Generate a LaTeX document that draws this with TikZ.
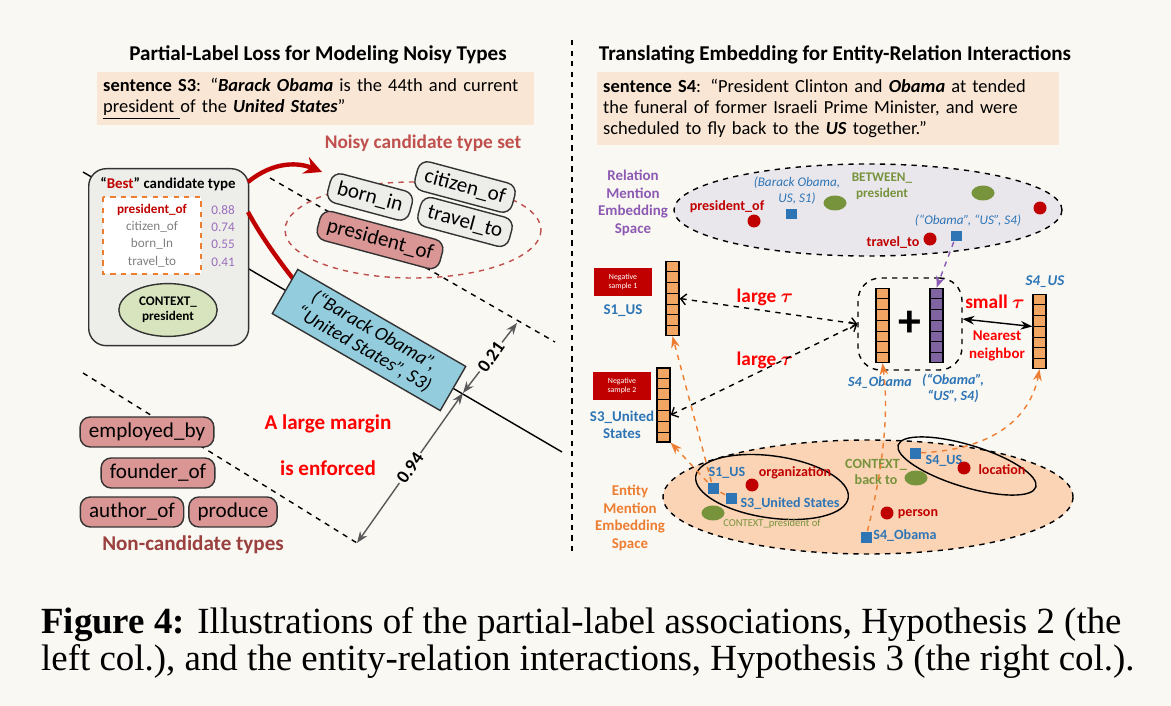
\documentclass[tikz,border=0pt]{standalone}
\usepackage{amsmath}
\usepackage{amssymb}
\usepackage{xcolor}
\usepackage{fontspec}
\setmainfont{Carlito}
\newfontfamily\capfont{Liberation Serif}
\usepackage{tikz}
\usetikzlibrary{
    arrows.meta,
    calc,
    shapes.geometric
}
\definecolor{bgc}{HTML}{FAF8F3}
\definecolor{peach}{HTML}{FAE6D4}
\definecolor{darkred}{HTML}{C00000}
\definecolor{noisy}{HTML}{C0504D}
\definecolor{pink}{HTML}{DA9694}
\definecolor{pillgray}{HTML}{EDEDEA}
\definecolor{skyb}{HTML}{93CDDD}
\definecolor{olivel}{HTML}{D7E4BD}
\definecolor{oliv}{HTML}{77933C}
\definecolor{orng}{HTML}{ED7D31}
\definecolor{orvec}{HTML}{F2A663}
\definecolor{purp}{HTML}{7030A0}
\definecolor{purvec}{HTML}{8064A2}
\definecolor{blu}{HTML}{2E75B6}
\definecolor{lav}{HTML}{E9E6EC}
\definecolor{salm}{HTML}{FAD4B4}
\newcommand{\cells}[1]{\foreach \k in {1,...,6}
  \draw ($(#1.north west)!\k/7!(#1.south west)$) -- ($(#1.north east)!\k/7!(#1.south east)$);}

\begin{document}
\begin{tikzpicture}[x=0.02cm,y=-0.02cm,>=Stealth]
    \tikzset{
      pill/.style={draw=black!80, thick, rounded corners=0.2cm, minimum height=0.6cm, font=\fontsize{12}{13}\selectfont, inner xsep=5pt},
      vec/.style={draw, thick, minimum width=0.26cm, minimum height=1.48cm, inner sep=0pt},
      dot/.style={circle, fill=darkred, inner sep=0pt, minimum size=0.26cm},
      sq/.style={fill=blu, inner sep=0pt, minimum size=0.22cm},
      gel/.style={ellipse, fill=oliv, inner sep=0pt, minimum width=0.46cm, minimum height=0.3cm},
      lbl/.style={font=\fontsize{8}{9}\selectfont\bfseries},
      neg/.style={fill=darkred, text=white, align=center, font=\fontsize{4.5}{5}\selectfont, minimum width=1.18cm, minimum height=0.55cm},
      orarr/.style={->, orng, thick, dashed}
    }
    \fill[bgc] (0,0) rectangle (1171,706);
    \useasboundingbox (0,0) rectangle (1171,706);

    % titles
    \node[font=\fontsize{12}{14}\selectfont\bfseries] (t1) at (318,55) {Partial-Label Loss for Modeling Noisy Types};
    \node[font=\fontsize{12}{14}\selectfont\bfseries] (t2) at (835,55) {Translating Embedding for Entity-Relation Interactions};
    \draw[dashed, thick] (572,40) -- (572,555);

    \node[fill=peach, anchor=north west, minimum width=8.66cm, minimum height=1cm, align=left, text width=8.5cm, font=\fontsize{10.5}{12}\selectfont] (s3) at (97,72)
      {\textbf{sentence S3}: “\textbf{\textit{Barack Obama}} is the 44th and current\\ \underline{president }of the \textbf{\textit{United States}}”};
    \node[fill=peach, anchor=north west, minimum width=9.16cm, minimum height=1.46cm, align=left, text width=9cm, font=\fontsize{10.5}{12}\selectfont] (s4) at (597,72)
      {\textbf{sentence S4}: “President Clinton and \textbf{\textit{Obama}} at tended\\ the funeral of former Israeli Prime Minister, and were\\ scheduled to fly back to the \textbf{\textit{US}} together.”};

    % left: margins
    \draw[thick] (83,172) -- (562,452);
    \draw[dashed, thick] (270,178) -- (555,342);
    \draw[dashed, thick] (83,373) -- (357,543);

    \node[text=noisy, font=\fontsize{11}{12}\selectfont\bfseries] (nt) at (423,143) {Noisy candidate type set};
    \draw[noisy, dashed, thick] (413,230) ellipse [x radius=128, y radius=48];
    \node[pill, fill=pillgray, rotate=-15] (c1) at (465,187) {citizen\_of};
    \node[pill, fill=pillgray, rotate=-15] (c2) at (370,197) {born\_in};
    \node[pill, fill=pillgray, rotate=-15] (c3) at (465,222) {travel\_to};
    \node[pill, fill=pink, rotate=-15] (c4) at (380,240) {president\_of};

    \node[draw=black!80, thick, fill=pillgray, rounded corners=0.35cm, minimum width=3.2cm, minimum height=3.54cm, anchor=north west] (bst) at (88,168) {};
    \node[font=\fontsize{8.5}{10}\selectfont\bfseries] (bt) at (168,184) {“\textcolor{darkred}{Best}” candidate type};
    \draw[orng, dashed, thick, fill=white] (103,197) rectangle (201,274);
    \node[text=darkred, font=\fontsize{7.5}{9}\selectfont\bfseries] (b1) at (152,210) {president\_of};
    \node[text=gray, font=\fontsize{7.5}{9}\selectfont] (b2) at (152,227) {citizen\_of};
    \node[text=gray, font=\fontsize{7.5}{9}\selectfont] (b3) at (152,244) {born\_In};
    \node[text=gray, font=\fontsize{7.5}{9}\selectfont] (b4) at (152,262) {travel\_to};
    \foreach \v/\y in {0.88/210, 0.74/227, 0.55/244, 0.41/262}
      \node[text=purp!70, font=\fontsize{7.5}{9}\selectfont] at (223,\y) {\v};
    \node[ellipse, draw=black!80, thick, fill=olivel, minimum width=1.9cm, minimum height=1cm, align=center, font=\fontsize{7.5}{8.5}\selectfont\bfseries] (ctx) at (168,310) {CONTEXT\_\\president};

    \draw[darkred, line width=2.5pt, -{Stealth[length=10pt,width=10pt]}] (248,182) .. controls (275,160) and (300,163) .. (322,172);
    \draw[darkred, line width=2.5pt] (248,212) .. controls (262,238) and (280,262) .. (294,280);

    \node[draw=black!80, thick, fill=skyb, rotate=-30, minimum width=3.88cm, minimum height=1.02cm, align=center, font=\fontsize{11}{12}\selectfont\itshape] (bo) at (369,340) {(“Barack Obama”,\\“United States”, S3)};

    \coordinate (d0) at (357,543);
    \coordinate (d1) at (463,393);
    \coordinate (d2) at (517,323);
    \draw[gray!70!black, thick, <->] (d0) -- (d1);
    \draw[gray!70!black, thick, <->] (d1) -- (d2);
    \node[rotate=55, fill=bgc, inner sep=1pt, font=\fontsize{10.5}{12}\selectfont\bfseries] at (410,468) {0.94};
    \node[rotate=55, fill=bgc, inner sep=1pt, font=\fontsize{10.5}{12}\selectfont\bfseries] at (491,357) {0.21};

    \node[text=red, font=\fontsize{12}{14}\selectfont\bfseries] (m1) at (328,424) {A large margin};
    \node[text=red, font=\fontsize{12}{14}\selectfont\bfseries] (m2) at (328,468) {is enforced};

    \node[pill, fill=pink] (n1) at (147,432) {employed\_by};
    \node[pill, fill=pink] (n2) at (158,473) {founder\_of};
    \node[pill, fill=pink] (n3) at (132,512) {author\_of};
    \node[pill, fill=pink] (n4) at (233,512) {produce};
    \node[text=noisy!80!black, font=\fontsize{12}{14}\selectfont\bfseries] (nc) at (193,545) {Non-candidate types};

    % right: relation space
    \draw[dashed, thick, fill=lav] (868,210) ellipse [x radius=194, y radius=46];
    \node[text=purp!80, align=center, font=\fontsize{8.5}{10}\selectfont\bfseries] (rm) at (633,203) {Relation\\Mention\\Embedding\\Space};
    \node[text=darkred, lbl] (rp) at (727,207) {president\_of};
    \node[dot] (rd1) at (754,221) {};
    \node[sq] (rs1) at (791,214) {};
    \node[text=blu, align=center, font=\fontsize{7.5}{9}\selectfont\itshape] (rbo) at (797,191) {(Barack Obama,\\US, S1)};
    \node[gel] (rg1) at (835,203) {};
    \node[text=oliv, align=center, font=\fontsize{7.5}{9}\selectfont\bfseries] (rbw) at (882,186) {BETWEEN\_\\president};
    \node[gel] (rg2) at (983,193) {};
    \node[dot] (rd2) at (1040,208) {};
    \node[text=blu, font=\fontsize{7.5}{9}\selectfont\itshape] (rob) at (968,221) {(“Obama”, “US”, S4)};
    \node[sq] (rs2) at (956,236) {};
    \node[text=darkred, lbl] (rt) at (893,243) {travel\_to};
    \node[dot] (rd3) at (930,239) {};

    % vectors
    \node[neg] (ng1) at (623,282) {Negative\\sample 1};
    \node[text=blu, font=\fontsize{8.5}{10}\selectfont\bfseries] (l1) at (623,311) {S1\_US};
    \node[vec, fill=orvec] (v1) at (672.5,298.5) {}; \cells{v1}
    \node[neg] (ng2) at (622,386) {Negative\\sample 2};
    \node[text=blu, align=center, font=\fontsize{8.5}{10}\selectfont\bfseries] (l3) at (622,425) {S3\_United\\States};
    \node[vec, fill=orvec] (v3) at (663.5,405) {}; \cells{v3}

    \node[draw, dashed, thick, rounded corners=0.45cm, minimum width=2.08cm, minimum height=1.84cm] (grp) at (910,324) {};
    \node[vec, fill=orvec] (vo) at (882.5,325.5) {}; \cells{vo}
    \node[vec, fill=purvec] (vp) at (936.5,325.5) {}; \cells{vp}
    \node[font=\fontsize{26}{26}\selectfont\bfseries] (plus) at (910,324) {+};
    \node[text=blu, font=\fontsize{8}{9}\selectfont\bfseries\itshape] (lo) at (880,383) {S4\_Obama};
    \node[text=blu, align=center, font=\fontsize{8}{9}\selectfont\bfseries\itshape] (lp) at (953,388) {(“Obama”,\\“US”, S4)};
    \node[vec, fill=orvec] (vu) at (1039.5,331.5) {}; \cells{vu}
    \node[text=blu, font=\fontsize{8.5}{10}\selectfont\bfseries\itshape] (lu) at (1045,282) {S4\_US};

    \draw[<->, thick] ([yshift=0.1cm]grp.east) -- ([yshift=0.1cm]vu.west);
    \node[text=red, font=\fontsize{11}{13}\selectfont\bfseries] (st) at (995,302) {small $\boldsymbol{\tau}$};
    \node[text=red, align=center, font=\fontsize{8.5}{10.5}\selectfont\bfseries] (nn) at (997,346) {Nearest\\neighbor};
    \node[text=red, font=\fontsize{11}{13}\selectfont\bfseries] (lt1) at (765,297) {large $\boldsymbol{\tau}$};
    \node[text=red, font=\fontsize{11}{13}\selectfont\bfseries] (lt2) at (765,360) {large $\boldsymbol{\tau}$};
    \draw[<->, dashed, thick, >={Straight Barb}] (v1.east) -- (grp.west);
    \draw[<->, dashed, thick, >={Straight Barb}] ([yshift=-0.2cm]v3.east) -- (grp.west);
    \draw[->, dashed, thick, purp!80] (rs2) -- (vp.north);

    % entity space
    \draw[dashed, thick, fill=salm] (868,497) ellipse [x radius=205, y radius=57];
    \node[text=orng, align=center, font=\fontsize{8.5}{10}\selectfont\bfseries] (em) at (630,518) {Entity\\Mention\\Embedding\\Space};
    \draw[thick, rotate around={-8:(772,487)}] (772,487) ellipse [x radius=77, y radius=31];
    \draw[thick, rotate around={-17:(967,466)}] (967,466) ellipse [x radius=72, y radius=21];
    \node[text=blu, lbl] (e1) at (727,473) {S1\_US};
    \node[sq] (es1) at (713,488) {};
    \node[sq] (es3) at (731,498) {};
    \node[text=blu, lbl] (e3) at (790,504) {S3\_United States};
    \node[dot] (ed1) at (752,485) {};
    \node[text=darkred, lbl] (eo) at (795,473) {organization};
    \node[gel] (eg1) at (713,513) {};
    \node[text=oliv, font=\fontsize{6}{7}\selectfont] (ec) at (772,524) {CONTEXT\_president of};
    \node[text=oliv, align=center, lbl] (eb) at (876,472) {CONTEXT\_\\back to};
    \node[gel] (eg2) at (916,478) {};
    \node[sq] (es4) at (915,453) {};
    \node[text=blu, lbl] (eu) at (944,461) {S4\_US};
    \node[dot] (ed2) at (964,468) {};
    \node[text=darkred, lbl] (el) at (1002,470) {location};
    \node[dot] (ed3) at (887,513) {};
    \node[text=darkred, lbl] (ep) at (918,514) {person};
    \node[sq] (eso) at (866,537) {};
    \node[text=blu, lbl] (eob) at (905,536) {S4\_Obama};

    \draw[orarr] (es1) -- (v1.south);
    \draw[orarr] (es3) -- (es1) -- (v3.south east);
    \draw[orarr] (eso) .. controls (880,480) and (890,420) .. (vo.south);
    \draw[orarr] (es4) .. controls (990,450) and (1030,420) .. (vu.south);

    % caption
    \node[anchor=west, font=\capfont\fontsize{21}{25}\selectfont] (cap1) at (35,625) {\textbf{Figure 4:} Illustrations of the partial-label associations, Hypothesis 2 (the};
    \node[anchor=west, font=\capfont\fontsize{21}{25}\selectfont] (cap2) at (35,661) {left col.), and the entity-relation interactions, Hypothesis 3 (the right col.).};
\end{tikzpicture}
\end{document}
